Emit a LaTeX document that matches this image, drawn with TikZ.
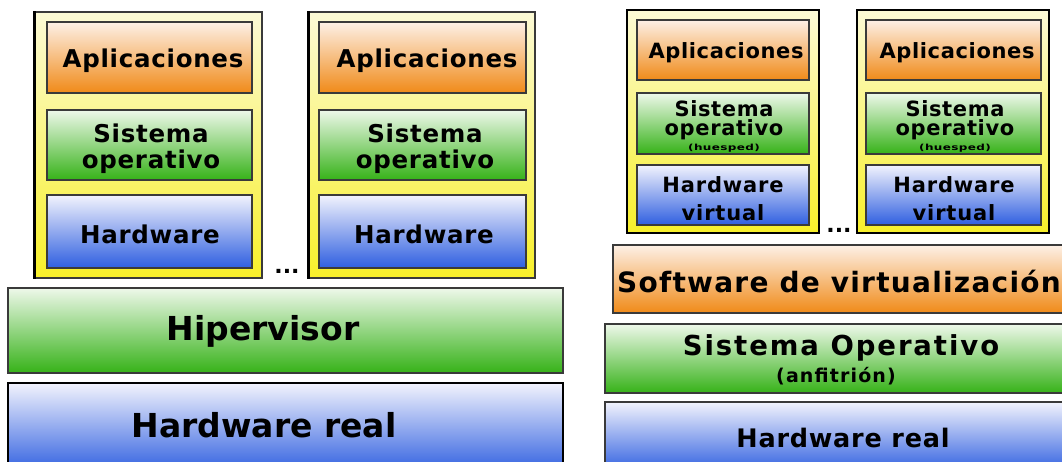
\documentclass[tikz,border=0pt]{standalone}
\usepackage{fontspec}
\usepackage{graphicx}
\setmainfont{DejaVu Sans}
\definecolor{orTop}{HTML}{FDF0E6}
\definecolor{orBot}{HTML}{F08A18}
\definecolor{grTop}{HTML}{EEF8EA}
\definecolor{grBot}{HTML}{36B218}
\definecolor{blTop}{HTML}{F2F3FD}
\definecolor{blBot}{HTML}{2F5FE0}
\definecolor{yeTop}{HTML}{FCFAD6}
\definecolor{yeBot}{HTML}{F8F02A}
\definecolor{edge}{HTML}{3A3A3A}
\newcommand{\fs}[3]{\fontsize{#1}{#1}\selectfont\addfontfeature{LetterSpace=#2}#3}
\tikzset{
  layer/.style={draw=edge, line width=1.3pt, inner sep=0pt},
  apps/.style={layer, top color=orTop, bottom color=orBot},
  osys/.style={layer, top color=grTop, bottom color=grBot},
  hware/.style={layer, top color=blTop, bottom color=blBot},
  vmbox/.style={draw=edge, line width=1.4pt, inner sep=0pt, top color=yeTop, bottom color=yeBot},
  vmboxr/.style={vmbox, draw=black, line width=2.4pt},
  base/.style={draw=edge, line width=2.4pt, inner sep=0pt},
  lbl/.style={inner sep=0pt, anchor=base, text=black},
  dotsym/.style={lbl, font=\bfseries\fontsize{22}{22}\selectfont},
}
\begin{document}
\begin{tikzpicture}[x=1pt, y=-1pt]
\useasboundingbox (0,0) rectangle (1062,461);
\clip (0,0) rectangle (1062,461);

% ---- hypervisor stack (left) ----
\node[vmbox, minimum width=227pt, minimum height=266pt] (c1) at (148.5,145) {};
\draw[black, line width=3.2pt] (c1.north west) -- (c1.south west);
\node[apps, minimum width=205pt, minimum height=71pt] (c1a) at (149.5,57.5) {};
\node[osys, minimum width=205pt, minimum height=70pt] (c1s) at (149.5,145) {};
\node[hware, minimum width=205pt, minimum height=73pt] (c1h) at (149.5,231.5) {};
\node[lbl, font=\bfseries\fs{24.5}{3}{}] (c1at) at (153,67) {Aplicaciones};
\node[lbl, font=\bfseries\fs{24.5}{3}{}] (c1st) at (151,142) {Sistema};
\node[lbl, font=\bfseries\fs{24.5}{3}{}] (c1ot) at (151,168) {operativo};
\node[lbl, font=\bfseries\fs{24.5}{3}{}] (c1ht) at (150,243) {Hardware};

\node[vmbox, minimum width=226pt, minimum height=266pt] (c2) at (422,145) {};
\draw[black, line width=3.2pt] (c2.north west) -- (c2.south west);
\node[apps, minimum width=207pt, minimum height=71pt] (c2a) at (422.5,57.5) {};
\node[osys, minimum width=207pt, minimum height=70pt] (c2s) at (422.5,145) {};
\node[hware, minimum width=207pt, minimum height=73pt] (c2h) at (422.5,231.5) {};
\node[lbl, font=\bfseries\fs{24.5}{3}{}] (c2at) at (427,67) {Aplicaciones};
\node[lbl, font=\bfseries\fs{24.5}{3}{}] (c2st) at (425,142) {Sistema};
\node[lbl, font=\bfseries\fs{24.5}{3}{}] (c2ot) at (425,168) {operativo};
\node[lbl, font=\bfseries\fs{24.5}{3}{}] (c2ht) at (424,243) {Hardware};

\node[dotsym] (d1) at (287,273) {...};

\node[base, top color=grTop, bottom color=grBot, minimum width=555pt, minimum height=85pt] (hyp) at (285.5,330.5) {};
\node[lbl, font=\bfseries\fs{33}{0}{}] (hypt) at (263,340) {Hipervisor};
\node[base, draw=black, line width=2pt, top color=blTop, bottom color=blBot, minimum width=555pt, minimum height=90pt] (hwl) at (285.5,428) {};
\node[lbl, font=\bfseries\fs{33}{0}{}] (hwlt) at (264,437) {Hardware real};

% ---- hosted stack (right) ----
\node[vmboxr, minimum width=192pt, minimum height=223pt] (c3) at (723,121.5) {};
\node[apps, minimum width=172pt, minimum height=60pt] (c3a) at (723,50) {};
\node[osys, minimum width=172pt, minimum height=61pt] (c3s) at (723,123.5) {};
\node[hware, minimum width=172pt, minimum height=60pt] (c3h) at (723,195) {};
\node[lbl, font=\bfseries\fs{21}{3}{}] (c3at) at (726,58) {Aplicaciones};
\node[lbl, font=\bfseries\fs{21}{3}{}] (c3st) at (724,116) {Sistema};
\node[lbl, font=\bfseries\fs{21}{3}{}] (c3ot) at (724,135) {operativo};
\node[lbl, font=\bfseries\fs{12}{3}{}] (c3gt) at (724,150) {\scalebox{1}[0.7]{(huesped)}};
\node[lbl, font=\bfseries\fs{21}{4}{}] (c3ht) at (723,192) {Hardware};
\node[lbl, font=\bfseries\fs{21}{4}{}] (c3vt) at (723,220) {virtual};

\node[vmboxr, minimum width=192pt, minimum height=223pt] (c4) at (953,121.5) {};
\node[apps, minimum width=175pt, minimum height=60pt] (c4a) at (953.5,50) {};
\node[osys, minimum width=175pt, minimum height=61pt] (c4s) at (953.5,123.5) {};
\node[hware, minimum width=175pt, minimum height=60pt] (c4h) at (953.5,195) {};
\node[lbl, font=\bfseries\fs{21}{3}{}] (c4at) at (957,58) {Aplicaciones};
\node[lbl, font=\bfseries\fs{21}{3}{}] (c4st) at (955,116) {Sistema};
\node[lbl, font=\bfseries\fs{21}{3}{}] (c4ot) at (955,135) {operativo};
\node[lbl, font=\bfseries\fs{12}{3}{}] (c4gt) at (955,150) {\scalebox{1}[0.7]{(huesped)}};
\node[lbl, font=\bfseries\fs{21}{4}{}] (c4ht) at (954,192) {Hardware};
\node[lbl, font=\bfseries\fs{21}{4}{}] (c4vt) at (954,220) {virtual};

\node[dotsym] (d2) at (839,232) {...};

\node[base, top color=orTop, bottom color=orBot, minimum width=456pt, minimum height=68pt] (sv) at (841,279) {};
\node[lbl, font=\bfseries\fs{28}{4.5}{}] (svt) at (839,292) {Software de virtualización};
\node[base, top color=grTop, bottom color=grBot, minimum width=464pt, minimum height=69pt] (soh) at (837,358.5) {};
\node[lbl, font=\bfseries\fs{27.5}{7}{}] (soht) at (841,355) {Sistema Operativo};
\node[lbl, font=\bfseries\fs{19}{6}{}] (sohs) at (836,382) {(anfitrión)};
\node[base, top color=blTop, bottom color=blBot, minimum width=464pt, minimum height=70pt] (hwr) at (837,437) {};
\node[lbl, font=\bfseries\fs{25.5}{3}{}] (hwrt) at (843,447) {Hardware real};
\end{tikzpicture}
\end{document}
